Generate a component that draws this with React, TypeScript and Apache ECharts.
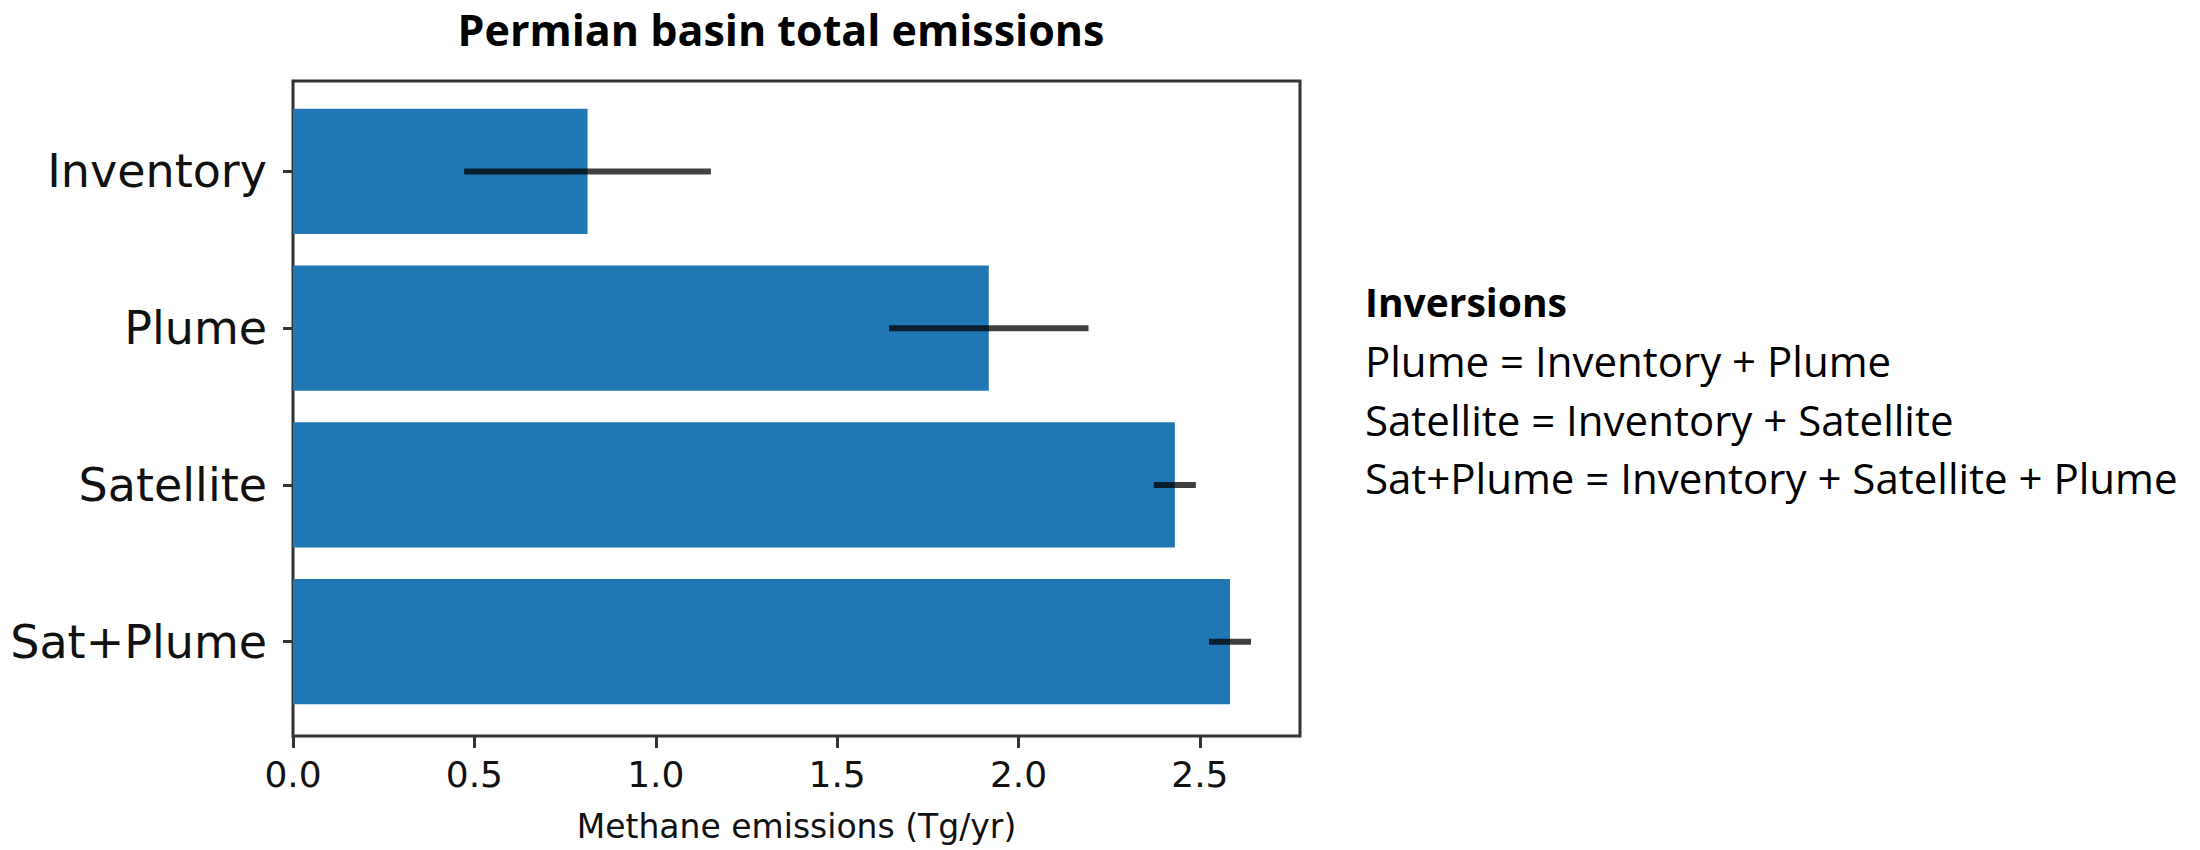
import React, { useEffect, useRef } from "react";
import * as echarts from "echarts";

const categories = ["Inventory", "Plume", "Satellite", "Sat+Plume"];
const emissions = [0.812, 1.918, 2.431, 2.583];
const uncertainties = [0.34, 0.275, 0.058, 0.058];
const xTicks = [0, 0.5, 1.0, 1.5, 2.0, 2.5];
const xMax = 2.776;
const chartTitle = "Permian basin total emissions";
const xAxisName = "Methane emissions (Tg/yr)";
const legendTitle = "Inversions";
const legendLines = [
  "Plume = Inventory + Plume",
  "Satellite = Inventory + Satellite",
  "Sat+Plume = Inventory + Satellite + Plume",
];

export default function App() {
  const ref = useRef<HTMLDivElement>(null);
  useEffect(() => {
    if (!ref.current) return;
    const chart = echarts.init(ref.current, null, { renderer: "svg" });
    const errData = categories.map((c, i) => [
      emissions[i] - uncertainties[i],
      emissions[i] + uncertainties[i],
      i,
    ]);
    const lineYs = [360, 419, 477];
    chart.setOption({
      animation: false,
      backgroundColor: "#ffffff",
      grid: [
        {
          left: 293,
          top: 81,
          width: 1007,
          height: 655,
          show: true,
          borderColor: "#333333",
          borderWidth: 3,
          backgroundColor: "transparent",
        },
        { left: 293, top: 93, width: 1007, height: 627 },
      ],
      xAxis: [
        {
          gridIndex: 0,
          type: "value",
          min: 0,
          max: xMax,
          axisLine: { show: false },
          splitLine: { show: false },
          axisTick: {
            show: true,
            length: 12,
            customValues: xTicks,
            lineStyle: { color: "#333333", width: 3 },
          },
          axisLabel: {
            customValues: xTicks,
            formatter: (v: number) => v.toFixed(1),
            fontSize: 36,
            fontFamily: "DejaVu Sans",
            color: "#111111",
            margin: 20,
          },
          name: xAxisName,
          nameLocation: "middle",
          nameGap: 74,
          nameTextStyle: {
            fontSize: 33,
            fontFamily: "DejaVu Sans",
            color: "#111111",
          },
        },
        { gridIndex: 1, type: "value", min: 0, max: xMax, show: false },
      ],
      yAxis: [
        { gridIndex: 0, type: "value", min: 0, max: 1, show: false },
        {
          gridIndex: 1,
          type: "category",
          data: categories,
          inverse: true,
          axisLine: { show: false },
          splitLine: { show: false },
          axisTick: {
            show: true,
            length: 10,
            alignWithLabel: true,
            lineStyle: { color: "#333333", width: 3 },
          },
          axisLabel: {
            fontSize: 46,
            fontFamily: "DejaVu Sans",
            color: "#111111",
            margin: 26,
            padding: [10, 0, 0, 0],
          },
        },
      ],
      series: [
        {
          type: "bar",
          xAxisIndex: 1,
          yAxisIndex: 1,
          data: emissions,
          barWidth: "80%",
          itemStyle: { color: "#1f77b4" },
          z: 2,
        },
        {
          type: "custom",
          xAxisIndex: 1,
          yAxisIndex: 1,
          data: errData,
          encode: { x: [0, 1], y: 2 },
          z: 3,
          renderItem: (params: any, api: any) => {
            const lo = api.coord([api.value(0), api.value(2)]);
            const hi = api.coord([api.value(1), api.value(2)]);
            return {
              type: "line",
              shape: { x1: lo[0], y1: lo[1], x2: hi[0], y2: hi[1] },
              style: { stroke: "rgba(0,0,0,0.75)", lineWidth: 6 },
            };
          },
        },
      ],
      graphic: [
        {
          type: "text",
          x: 781,
          y: 29,
          style: {
            text: chartTitle,
            fontFamily: "Open Sans",
            fontWeight: "bold",
            fontSize: 43,
            fill: "#000000",
            textAlign: "center",
            textVerticalAlign: "middle",
          },
        },
        {
          type: "text",
          x: 1365,
          y: 301,
          style: {
            text: legendTitle,
            fontFamily: "Open Sans",
            fontWeight: "bold",
            fontSize: 39,
            fill: "#000000",
            textAlign: "left",
            textVerticalAlign: "middle",
          },
        },
        ...legendLines.map((t, i) => ({
          type: "text",
          x: 1365,
          y: lineYs[i],
          style: {
            text: t,
            fontFamily: "Open Sans",
            fontSize: 42,
            fill: "#000000",
            textAlign: "left",
            textVerticalAlign: "middle",
          },
        })),
      ],
    });
    return () => chart.dispose();
  }, []);
  return (
    <div
      ref={ref}
      style={{ position: "absolute", left: 0, top: 0, width: 2200, height: 850 }}
    />
  );
}
